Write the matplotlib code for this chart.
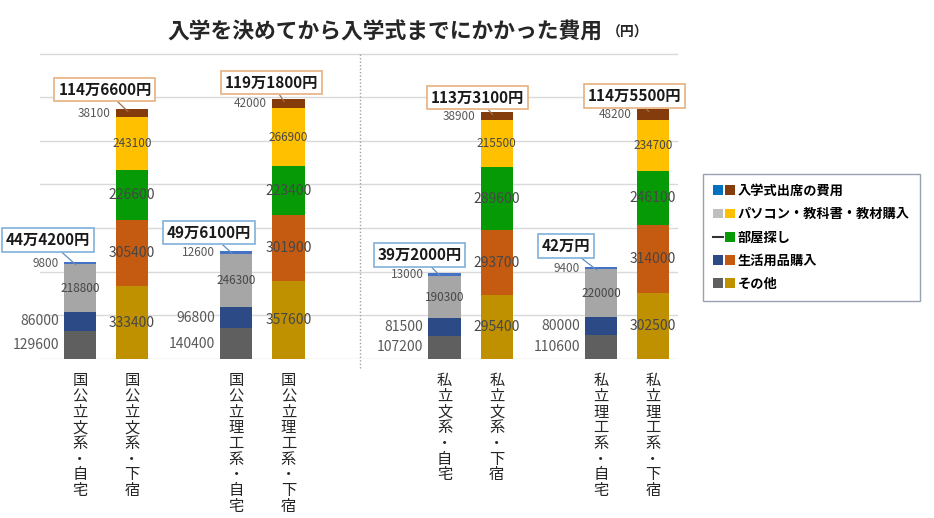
import matplotlib
matplotlib.use('Agg')
import matplotlib.pyplot as plt
from matplotlib.patches import Patch
from matplotlib.lines import Line2D
from matplotlib.legend_handler import HandlerTuple
import numpy as np

plt.rcParams['font.family'] = ['Noto Sans CJK JP', 'DejaVu Sans']

# ---- data ----
categories = ['国公立文系・自宅', '国公立文系・下宿', '国公立理工系・自宅', '国公立理工系・下宿',
              '私立文系・自宅', '私立文系・下宿', '私立理工系・自宅', '私立理工系・下宿']
sonota = [129600, 333400, 140400, 357600, 107200, 295400, 110600, 302500]      # その他
seikatsu = [86000, 305400, 96800, 301900, 81500, 293700, 80000, 314000]        # 生活用品購入
heya = [0, 226600, 0, 223400, 0, 289600, 0, 246100]                             # 部屋探し
pasokon = [218800, 243100, 246300, 266900, 190300, 215500, 220000, 234700]     # パソコン・教科書・教材購入
nyugaku = [9800, 38100, 12600, 42000, 13000, 38900, 9400, 48200]                # 入学式出席の費用
legend_labels = ['入学式出席の費用', 'パソコン・教科書・教材購入', '部屋探し', '生活用品購入', 'その他']
title = '入学を決めてから入学式までにかかった費用'
unit = '（円）'

# ---- layout / style ----
positions = [0, 1, 3, 4, 7, 8, 10, 11]
bar_w = 0.62
home_colors = ['#5f5f5f', '#2b4a86', '#2b4a86', '#a6a6a6', '#4472c4']
dorm_colors = ['#bf9000', '#c55a11', '#069a06', '#ffc000', '#843c0c']
big_label = [True, True, True, False, False]
callout_offsets = [(-28, 25), (-23, 22), (-23, 21), (-13, 19), (-21, 21), (-15, 17), (-31, 24), (-14, 16)]
label_color = '#595959'

fig = plt.figure(figsize=(9.34, 5.18), dpi=100)
ax = fig.add_axes([40/934, 1-359/518, (678-40)/934, 306.3/518])
u = 52.09
ax.set_xlim((40-80)/u, (678-80)/u)
ax.set_ylim(0, 1.4e6*1.003)
ax.set_yticks(np.arange(0, 1.4e6+1, 2e5))
ax.yaxis.grid(True, color='#d9d9d9', lw=1)
ax.set_axisbelow(True)
ax.tick_params(left=False, labelleft=False, bottom=False, pad=6)
for s in ax.spines.values():
    s.set_visible(False)

layers = [sonota, seikatsu, heya, pasokon, nyugaku]
for i, p in enumerate(positions):
    home = (i % 2 == 0)
    cols = home_colors if home else dorm_colors
    bottom = 0
    for k, layer in enumerate(layers):
        v = layer[i]
        if v == 0:
            continue
        ax.bar(p, v, bottom=bottom, width=bar_w, color=cols[k], zorder=3)
        yc = bottom + v/2
        size = 10 if big_label[k] else 8.5
        left = (home and k in (0, 1, 4)) or ((not home) and k == 4)
        if left:
            ax.annotate(f'{v}', xy=(p - bar_w/2, yc), xytext=(-5, 0), textcoords='offset pixels',
                        ha='right', va='center', fontsize=size, color=label_color, zorder=5)
        else:
            ax.text(p, yc, f'{v}', ha='center', va='center', fontsize=size, color='#474747', zorder=5)
        bottom += v
    total = bottom
    man, rest = divmod(total, 10000)
    txt = f'{man}万{rest}円' if rest else f'{man}万円'
    ec = '#7fb0dc' if home else '#e8b080'
    lc = '#5b8fc6' if home else '#a07050'
    ax.annotate(txt, xy=(p - 0.08, total - 12000), xytext=callout_offsets[i], textcoords='offset pixels',
                ha='center', va='center', fontsize=11, fontweight='bold', color='#1a1a1a', zorder=6,
                bbox=dict(boxstyle='square,pad=0.25', fc='white', ec=ec, lw=1.2),
                arrowprops=dict(arrowstyle='-', color=lc, lw=0.9, shrinkA=0, shrinkB=0))

ax.set_xticks(positions)
ax.set_xticklabels(['\n'.join(c) for c in categories], fontsize=11, va='top', linespacing=0.9, color='#262626')

xdiv = (360-80)/u
ax.plot([xdiv, xdiv], [-40000, 1.4e6], ls=(0, (1, 1.5)), color='#a0a0a0', lw=1, clip_on=False, zorder=1)

fig.text(167/934, 1-32/518, title, fontsize=15.7, fontweight='bold', ha='left', va='center', color='#262626')
fig.text(607/934, 1-33/518, unit, fontsize=10, fontweight='bold', ha='left', va='center', color='#262626')

handles = [
    (Patch(fc='#0070c0', ec='none'), Patch(fc='#843c0c', ec='none')),
    (Patch(fc='#bfbfbf', ec='none'), Patch(fc='#ffc000', ec='none')),
    (Line2D([], [], color='#333333', lw=1.5), Patch(fc='#069a06', ec='none')),
    (Patch(fc='#2b4a86', ec='none'), Patch(fc='#c55a11', ec='none')),
    (Patch(fc='#5f5f5f', ec='none'), Patch(fc='#bf9000', ec='none')),
]
leg = fig.legend(handles, legend_labels, handler_map={tuple: HandlerTuple(ndivide=None, pad=0.15)},
                 loc='upper left', bbox_to_anchor=(703/934, 1-174/518), frameon=True, fancybox=False,
                 edgecolor='#7f8c9f', prop=dict(family='Noto Sans CJK JP', weight='bold', size=9.5),
                 handlelength=1.7, handleheight=0.75, handletextpad=0.2, labelspacing=0.7,
                 borderpad=0.75, borderaxespad=0)
leg.get_frame().set_linewidth(1)

fig.savefig('out.png', dpi=100)
